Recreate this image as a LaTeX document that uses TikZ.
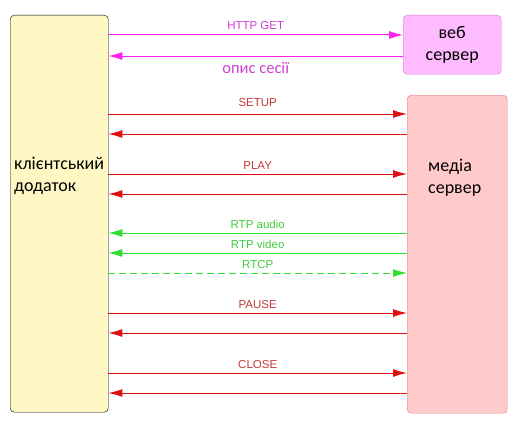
\documentclass[tikz,border=0pt]{standalone}
\usepackage{fontspec}
\setmainfont{Carlito}
\newfontfamily\labelfont{Liberation Sans}
\usetikzlibrary{arrows.meta}
\definecolor{clientfill}{HTML}{FFF7C4}
\definecolor{webfill}{HTML}{FFBBFF}
\definecolor{webdraw}{HTML}{D080D0}
\definecolor{mediafill}{HTML}{FFCACA}
\definecolor{mediadraw}{HTML}{D88080}
\definecolor{httpline}{HTML}{FF22EE}
\definecolor{httptext}{HTML}{D040D0}
\definecolor{rtspline}{HTML}{E01010}
\definecolor{rtsptext}{HTML}{C83838}
\definecolor{rtpline}{HTML}{30E030}
\definecolor{rtptext}{HTML}{40CC40}
\begin{document}
\begin{tikzpicture}[x=1pt,y=-1pt]
\tikzstyle{box} = [draw,rectangle,rounded corners=4pt,anchor=north west,inner sep=0pt]
\tikzstyle{boxtext} = [font=\fontsize{18}{22}\selectfont,align=left,inner sep=0pt]
\tikzstyle{connector} = [-{Latex[length=14pt,width=8pt]},line width=1pt]
\tikzstyle{msg} = [font=\labelfont\fontsize{11.5}{13}\selectfont,inner sep=0pt,anchor=base,yshift=5pt]
\useasboundingbox (0,0) rectangle (529,428);

\node[box,fill=clientfill,draw=black,minimum width=98pt,minimum height=397pt](client) at (10,15){};
\node[box,fill=webfill,draw=webdraw,minimum width=98pt,minimum height=59pt,boxtext,align=center](web) at (403,15){веб\\сервер};
\node[box,fill=mediafill,draw=mediadraw,minimum width=100pt,minimum height=318pt](media) at (407,95){};
\node[boxtext,anchor=west](clientname) at (14,176){клієнтський\\додаток};
\node[boxtext,anchor=west](medianame) at (428,178){медіа\\сервер};

% message rows
\coordinate (get) at (0,35);
\coordinate (sdp) at (0,56);
\coordinate (setup) at (0,114);
\coordinate (setupok) at (0,134);
\coordinate (play) at (0,174);
\coordinate (playok) at (0,194);
\coordinate (audio) at (0,233);
\coordinate (video) at (0,253);
\coordinate (rtcp) at (0,273);
\coordinate (pause) at (0,313);
\coordinate (pauseok) at (0,333);
\coordinate (close) at (0,373);
\coordinate (closeok) at (0,393);

\draw [connector,httpline] (client.east |- get) -- node[msg,text=httptext]{HTTP GET} (web.west |- get);
\draw [connector,httpline] (web.west |- sdp) -- node[anchor=base,yshift=-18pt,inner sep=0pt,text=httptext,font=\fontsize{16.5}{18}\selectfont]{опис сесії} (client.east |- sdp);
\draw [connector,rtspline] (client.east |- setup) -- node[msg,yshift=3pt,text=rtsptext]{SETUP} (media.west |- setup);
\draw [connector,rtspline] (media.west |- setupok) -- (client.east |- setupok);
\draw [connector,rtspline] (client.east |- play) -- node[msg,text=rtsptext]{PLAY} (media.west |- play);
\draw [connector,rtspline] (media.west |- playok) -- (client.east |- playok);
\draw [connector,rtpline] (media.west |- audio) -- node[msg,text=rtptext]{RTP audio} (client.east |- audio);
\draw [connector,rtpline] (media.west |- video) -- node[msg,text=rtptext]{RTP video} (client.east |- video);
\draw [connector,rtpline,dash pattern=on 7pt off 4pt] (client.east |- rtcp) -- node[msg,text=rtptext]{RTCP} (media.west |- rtcp);
\draw [connector,rtspline] (client.east |- pause) -- node[msg,text=rtsptext]{PAUSE} (media.west |- pause);
\draw [connector,rtspline] (media.west |- pauseok) -- (client.east |- pauseok);
\draw [connector,rtspline] (client.east |- close) -- node[msg,text=rtsptext]{CLOSE} (media.west |- close);
\draw [connector,rtspline] (media.west |- closeok) -- (client.east |- closeok);
\end{tikzpicture}
\end{document}
